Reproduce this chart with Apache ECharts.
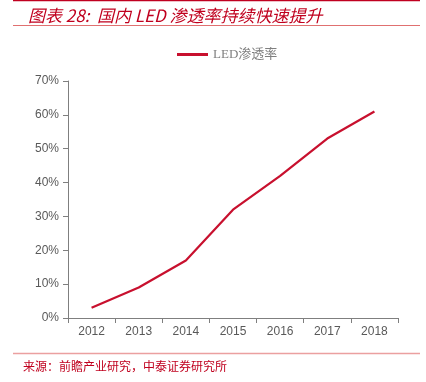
<!DOCTYPE html>
<html>
<head>
<meta charset="utf-8">
<script src="https://cdn.jsdelivr.net/npm/echarts@6/dist/echarts.min.js"></script>
<style>html,body{margin:0;padding:0;background:#fff;}#c{width:426px;height:382px;}</style>
</head>
<body>
<div id="c"></div>
<script>
const categories = ['2012', '2013', '2014', '2015', '2016', '2017', '2018'];
const ledPenetration = [3, 9, 17, 32, 42, 53, 61];
const seriesName = 'LED渗透率';
const titleText = '图表 28:  国内 LED 渗透率持续快速提升';
const sourceText = '来源：前瞻产业研究，中泰证券研究所';

const chart = echarts.init(document.getElementById('c'));
chart.setOption({
  backgroundColor: '#fff',
  animation: false,
  title: {
    text: titleText,
    left: 23, top: 2,
    textStyle: { color: '#C0001E', fontSize: 17, fontStyle: 'italic', fontWeight: 'normal', fontFamily: 'Noto Sans CJK SC' }
  },
  graphic: [
    { type: 'line', shape: { x1: 13, y1: 0.5, x2: 420, y2: 0.5 }, style: { stroke: '#C00020', lineWidth: 1.5 } },
    { type: 'line', shape: { x1: 13, y1: 25.5, x2: 420, y2: 25.5 }, style: { stroke: '#E07070', lineWidth: 1 } },
    { type: 'line', shape: { x1: 13, y1: 353.5, x2: 420, y2: 353.5 }, style: { stroke: '#EBA0A0', lineWidth: 1.5 } },
    { type: 'text', left: 23, top: 360, style: { text: sourceText, fill: '#C0001E', fontSize: 12, fontFamily: 'Noto Sans CJK SC' } }
  ],
  legend: {
    top: 43, left: 172,
    itemWidth: 31, itemHeight: 3, itemGap: 4,
    icon: 'rect',
    textStyle: { color: '#7F7F7F', fontSize: 13, fontFamily: 'Liberation Serif, Noto Sans CJK SC' },
    data: [seriesName]
  },
  grid: { left: 68, right: 28, top: 81, bottom: 64 },
  xAxis: {
    type: 'category',
    data: categories,
    boundaryGap: true,
    axisLine: { lineStyle: { color: '#7F7F7F', width: 1 } },
    axisTick: { show: true, alignWithLabel: false, length: 5, lineStyle: { color: '#7F7F7F' } },
    axisLabel: { color: '#595959', fontSize: 12, fontFamily: 'Liberation Sans', margin: 8 }
  },
  yAxis: {
    type: 'value',
    min: 0, max: 70, interval: 10,
    axisLine: { show: true, lineStyle: { color: '#7F7F7F', width: 1 } },
    axisTick: { show: true, length: 5, inside: false, lineStyle: { color: '#7F7F7F' } },
    splitLine: { show: false },
    axisLabel: { color: '#595959', fontSize: 12, fontFamily: 'Liberation Sans', formatter: '{value}%', margin: 9 }
  },
  series: [{
    name: seriesName,
    type: 'line',
    data: ledPenetration,
    symbol: 'none',
    lineStyle: { color: '#C8102E', width: 2.2 },
    itemStyle: { color: '#C8102E' }
  }]
});
</script>
</body>
</html>
